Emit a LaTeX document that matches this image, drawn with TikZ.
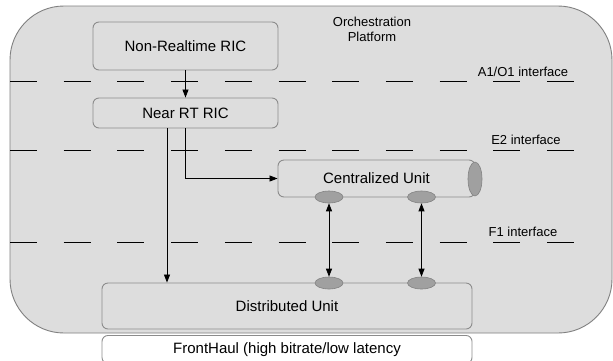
\documentclass[tikz,border=0pt]{standalone}
\usepackage{fontspec}
\setmainfont{Liberation Sans}
\usetikzlibrary{arrows.meta,shapes.geometric}
\definecolor{platfill}{RGB}{221,221,221}
\definecolor{platline}{RGB}{128,128,128}
\definecolor{boxline}{RGB}{140,140,140}
\definecolor{portfill}{RGB}{160,160,160}
\definecolor{portline}{RGB}{130,130,130}
\tikzset{
  box/.style={draw=boxline, line width=0.9pt, fill=platfill, rounded corners=6pt, inner sep=0pt,
    font=\fontsize{15}{18}\selectfont},
  port/.style={ellipse, draw=portline, line width=0.6pt, fill=portfill, inner sep=0pt,
    minimum width=28pt, minimum height=12pt},
  small/.style={font=\fontsize{13}{15}\selectfont, inner sep=0pt, align=center},
  arr/.style={line width=0.8pt, -{Triangle[length=8pt,width=6pt]}},
  darr/.style={line width=0.8pt, {Triangle[length=8pt,width=6pt]}-{Triangle[length=8pt,width=6pt]}},
  iface/.style={line width=0.9pt, dash pattern=on 27pt off 26.7pt}
}
\begin{document}
\begin{tikzpicture}[x=1pt,y=-1pt]
\clip (0,0) rectangle (613,360);
\fill[white] (0,0) rectangle (613,360);
% platform
\draw[draw=platline, line width=0.9pt, fill=platfill]
  (10,60) arc[start angle=180, end angle=90, radius=54pt] -- (558,6)
  arc[start angle=90, end angle=0, radius=54pt] -- (612,279)
  arc[start angle=0, end angle=-90, radius=54pt] -- (64,333)
  arc[start angle=-90, end angle=-180, radius=54pt] -- cycle;
\node[small] (orch) at (372,29) {Orchestration\\Platform};
% interface lines
\draw[iface] (10,81) -- (575,81);
\draw[iface] (10,150) -- (575,150);
\draw[iface] (10,242) -- (575,242);
\node[small] (a1) at (523,72) {A1/O1 interface};
\node[small] (e2) at (526,140) {E2 interface};
\node[small] (f1) at (523,232) {F1 interface};
% boxes
\node[box, minimum width=185pt, minimum height=48pt] (nonrt) at (185.5,46) {Non-Realtime RIC};
\node[box, minimum width=185pt, minimum height=30pt] (nearrt) at (185.5,113) {Near RT RIC};
\node[box, minimum width=197pt, minimum height=37pt] (cu) at (376.5,178.5) {Centralized Unit};
\node[ellipse, draw=portline, line width=0.6pt, fill=portfill, inner sep=0pt,
  minimum width=14pt, minimum height=34pt] (cap) at (475,179) {};
\node[box, minimum width=370pt, minimum height=46pt] (du) at (287,306) {Distributed Unit};
\node[box, fill=white, anchor=north, minimum width=370pt, minimum height=28pt] (fh) at (287,335) {FrontHaul (high bitrate/low latency};
% ports
\node[port] (cu1) at (329,197) {};
\node[port] (cu2) at (421.5,197) {};
\node[port] (du1) at (329,283) {};
\node[port] (du2) at (421.5,283) {};
% connectors
\draw[arr] (nonrt.south) -- (nearrt.north);
\draw[arr] ([xshift=-18.5pt]nearrt.south) -- ([xshift=-18.5pt]nearrt.south |- du.north);
\draw[arr] (nearrt.south) |- (cu.west);
\draw[darr] (cu1.south) -- (du1.north);
\draw[darr] (cu2.south) -- (du2.north);
\end{tikzpicture}
\end{document}
